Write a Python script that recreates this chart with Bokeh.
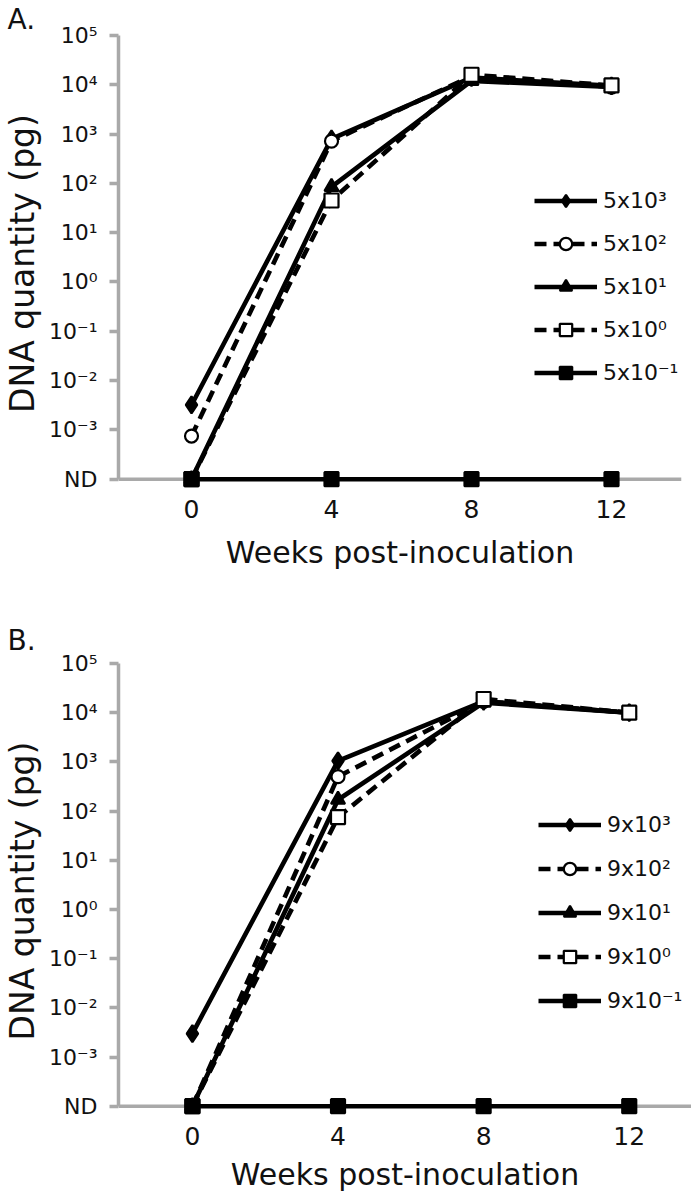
from bokeh.plotting import figure
from bokeh.layouts import column
from bokeh.models import FixedTicker, Span, Legend, LegendItem
from bokeh.embed import file_html
from bokeh.resources import INLINE

# ---------------- data ----------------
weeks = [0, 4, 8, 12]
ND = 1e-4  # "not detected" level drawn on the axis

a_labels = ["5x10³", "5x10²", "5x10¹", "5x10⁰", "5x10⁻¹"]
a_5e3 = [3.2e-3, 8.0e2, 1.4e4, 9.5e3]
a_5e2 = [7.5e-4, 7.2e2, 1.5e4, 9.0e3]
a_5e1 = [ND, 8.5e1, 1.2e4, 9.0e3]
a_5e0 = [ND, 4.5e1, 1.6e4, 9.7e3]
a_5em1 = [ND, ND, ND, ND]

b_labels = ["9x10³", "9x10²", "9x10¹", "9x10⁰", "9x10⁻¹"]
b_9e3 = [3.0e-3, 1.05e3, 1.7e4, 1.0e4]
b_9e2 = [ND, 5.0e2, 1.7e4, 1.0e4]
b_9e1 = [ND, 1.7e2, 1.6e4, 1.0e4]
b_9e0 = [ND, 7.5e1, 1.9e4, 1.0e4]
b_9em1 = [ND, ND, ND, ND]

y_tick_values = [1e-4, 1e-3, 1e-2, 1e-1, 1e0, 1e1, 1e2, 1e3, 1e4, 1e5]
y_tick_labels = ["ND", "10⁻³", "10⁻²", "10⁻¹", "10⁰", "10¹", "10²", "10³", "10⁴", "10⁵"]
x_tick_values = [0, 4, 8, 12]

# --------------- styles ---------------
FONT = "DejaVu Sans"
GRAY = "#a9a9a9"
TXT = "#111111"
styles = [
    dict(marker="diamond", dash="solid", fill="black", size=17),
    dict(marker="circle", dash="12 7", fill="white", size=13),
    dict(marker="triangle", dash="solid", fill="black", size=14),
    dict(marker="square", dash="12 7", fill="white", size=14),
    dict(marker="square", dash="solid", fill="black", size=14),
]


def make_panel(letter, labels, series, frame_w, frame_h, x_range, borders,
               legend_xy, legend_spacing, title_standoff, xlabel_standoff):
    top, bottom, left, right = borders
    p = figure(frame_width=frame_w, frame_height=frame_h, x_range=x_range,
               y_range=(10 ** -4.25, 1e5), y_axis_type="log",
               output_backend="svg", toolbar_location=None,
               min_border_top=top, min_border_bottom=bottom,
               min_border_left=left, min_border_right=right)
    p.outline_line_color = None
    p.xgrid.visible = False
    p.ygrid.visible = False

    # panel letter
    p.title.text = letter
    p.title.text_font = FONT
    p.title.text_font_size = "28px"
    p.title.text_font_style = "normal"
    p.title.text_color = TXT
    p.title.align = "left"
    p.title.offset = -left
    p.title.standoff = title_standoff

    # y axis
    ya = p.yaxis[0]
    ya.ticker = FixedTicker(ticks=y_tick_values)
    ya.major_label_overrides = dict(zip(y_tick_values, y_tick_labels))
    ya.bounds = (y_tick_values[0], y_tick_values[-1])
    ya.axis_line_color = GRAY
    ya.axis_line_width = 3.5
    ya.major_tick_line_color = GRAY
    ya.major_tick_line_width = 3.5
    ya.major_tick_out = 9
    ya.major_tick_in = 0
    ya.minor_tick_line_color = None
    ya.major_label_text_font = FONT
    ya.major_label_text_font_size = "22px"
    ya.major_label_text_color = TXT
    ya.major_label_standoff = 12
    ya.axis_label = "DNA quantity (pg)"
    ya.axis_label_text_font = FONT
    ya.axis_label_text_font_size = "33px"
    ya.axis_label_text_font_style = "normal"
    ya.axis_label_text_color = TXT
    ya.axis_label_standoff = 4

    # x axis (its line is drawn at the ND level)
    xa = p.xaxis[0]
    xa.ticker = FixedTicker(ticks=x_tick_values)
    xa.axis_line_color = None
    xa.major_tick_line_color = None
    xa.minor_tick_line_color = None
    xa.major_label_text_font = FONT
    xa.major_label_text_font_size = "25px"
    xa.major_label_text_color = TXT
    xa.major_label_standoff = 2
    xa.axis_label = "Weeks post-inoculation"
    xa.axis_label_text_font = FONT
    xa.axis_label_text_font_size = "30px"
    xa.axis_label_text_font_style = "normal"
    xa.axis_label_text_color = TXT
    xa.axis_label_standoff = xlabel_standoff

    p.add_layout(Span(location=ND, dimension="width", line_color=GRAY,
                      line_width=3.5, level="underlay"))

    items = []
    for lab, vals, st in zip(labels, series, styles):
        lr = p.line(weeks, vals, line_width=4.6, line_color="black",
                    line_dash=st["dash"])
        sr = p.scatter(weeks, vals, marker=st["marker"], size=st["size"],
                       fill_color=st["fill"], line_color="black", line_width=2.2)
        items.append(LegendItem(label=lab, renderers=[lr, sr]))

    legend = Legend(items=items, location=legend_xy, glyph_width=63, glyph_height=31,
                    spacing=legend_spacing, label_standoff=6, padding=0, margin=0,
                    border_line_color=None, background_fill_alpha=0,
                    label_text_font=FONT, label_text_font_size="22px",
                    label_text_color=TXT, label_height=31)
    p.add_layout(legend)
    return p


pA = make_panel("A.", a_labels, [a_5e3, a_5e2, a_5e1, a_5e0, a_5em1],
                frame_w=563, frame_h=456, x_range=(-2.086, 14.0),
                borders=(30, 97, 111, 10), legend_xy=(416, 103), legend_spacing=12,
                title_standoff=0, xlabel_standoff=14)
pB = make_panel("B.", b_labels, [b_9e3, b_9e2, b_9e1, b_9e0, b_9em1],
                frame_w=573, frame_h=455, x_range=(-2.03, 13.71),
                borders=(75, 71, 111, 0), legend_xy=(420, 102), legend_spacing=13,
                title_standoff=14, xlabel_standoff=9)

layout = column(pA, pB, spacing=0)
open("out.html", "w").write(file_html(layout, INLINE, title="DNA quantity"))
